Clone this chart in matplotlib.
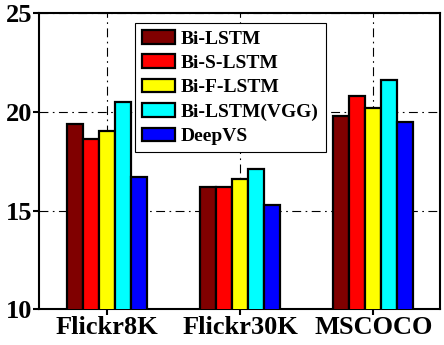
import numpy as np
import matplotlib
matplotlib.use('Agg')
import matplotlib.pyplot as plt

datasets = ['Flickr8K', 'Flickr30K', 'MSCOCO']
models = ['Bi-LSTM', 'Bi-S-LSTM', 'Bi-F-LSTM', 'Bi-LSTM(VGG)', 'DeepVS']
colors = ['#800000', '#ff0000', '#ffff00', '#00ffff', '#0000ff']
bi_lstm = [19.4, 16.2, 19.8]
bi_s_lstm = [18.6, 16.2, 20.8]
bi_f_lstm = [19.0, 16.6, 20.2]
bi_lstm_vgg = [20.5, 17.1, 21.6]
deepvs = [16.7, 15.3, 19.5]
values = [bi_lstm, bi_s_lstm, bi_f_lstm, bi_lstm_vgg, deepvs]
yticks = [10, 15, 20, 25]

plt.rcParams['font.family'] = ['Liberation Serif', 'DejaVu Serif']
plt.rcParams['font.weight'] = 'bold'

fig = plt.figure(figsize=(4.44, 3.45), dpi=100)
ax = fig.add_axes([0.088, 0.103, 0.903, 0.86])

x = np.arange(len(datasets))
w = 0.12
for i, (m, v) in enumerate(zip(models, values)):
    ax.bar(x + (i - 2) * w, v, w, color=colors[i], edgecolor='black',
           linewidth=1.6, label=m, zorder=3)

ax.set_xlim(-0.51, 2.5)
ax.set_ylim(10, 25)
ax.set_xticks(x)
ax.set_xticklabels(datasets, fontsize=19, fontweight='bold')
ax.set_yticks(yticks)
ax.set_yticklabels([str(t) for t in yticks], fontsize=19, fontweight='bold')
ax.tick_params(direction='out', length=4, width=1.5, pad=1)
for s in ax.spines.values():
    s.set_linewidth(1.5)
ax.grid(True, color='black', linestyle=(0, (8, 4, 1.5, 4)), linewidth=0.8, zorder=0)
ax.set_axisbelow(True)

leg = ax.legend(loc='upper left', bbox_to_anchor=(0.24, 0.965),
                prop={'weight': 'bold', 'size': 14}, fancybox=False,
                framealpha=1, edgecolor='black', handlelength=1.7,
                handleheight=0.7, labelspacing=0.35, borderpad=0.35,
                handletextpad=0.3, borderaxespad=0)
leg.get_frame().set_linewidth(0.8)

fig.savefig('out.png', dpi=100)
